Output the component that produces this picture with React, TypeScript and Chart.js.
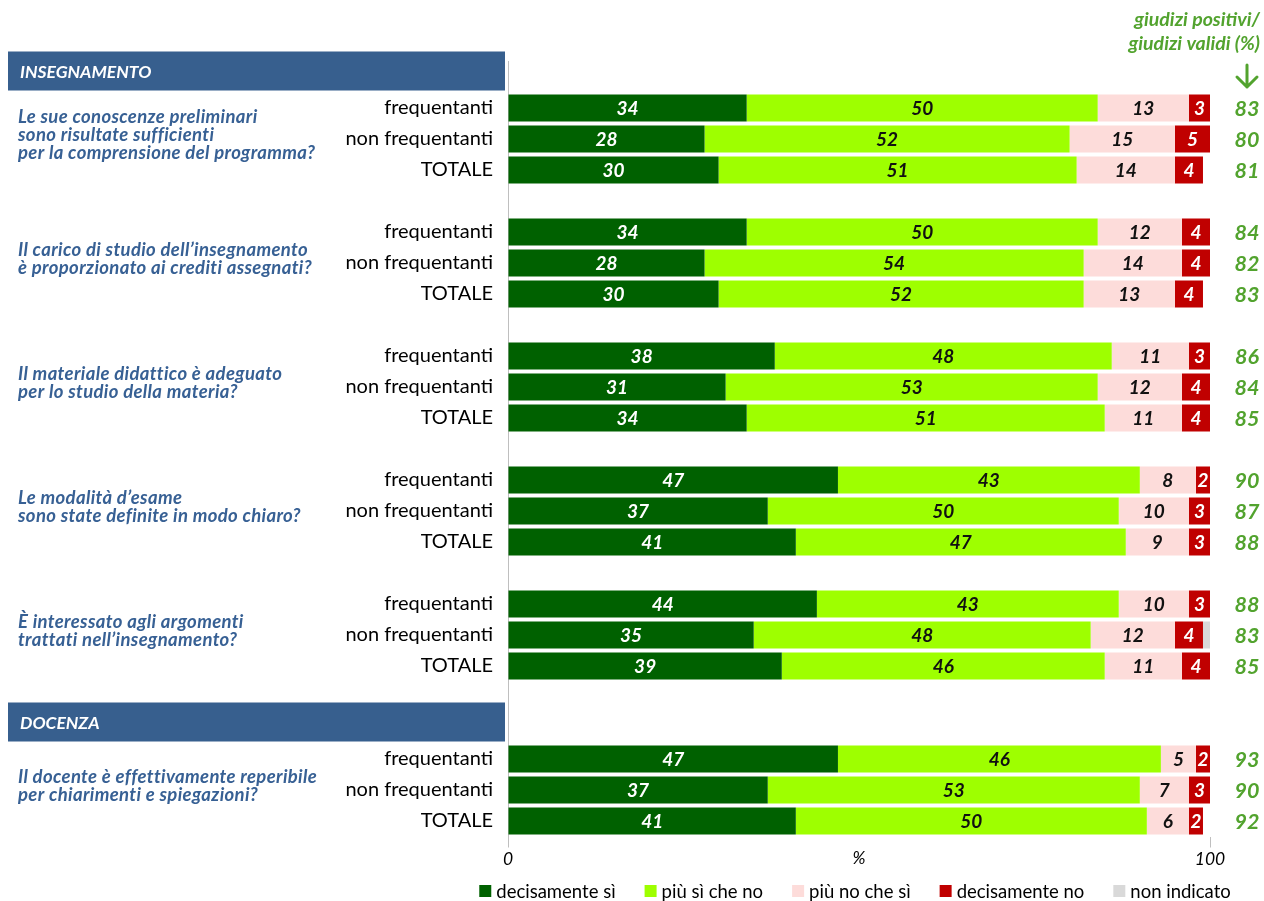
import React, { useEffect, useRef } from 'react';
import { Chart, registerables } from 'chart.js';

Chart.register(...registerables);

const sections = ['INSEGNAMENTO', 'DOCENZA'];
const sectionQuestionCounts = [5, 1];
const questions: string[][] = [
  ['Le sue conoscenze preliminari', 'sono risultate sufficienti', 'per la comprensione del programma?'],
  ['Il carico di studio dell\u2019insegnamento', '\u00e8 proporzionato ai crediti assegnati?'],
  ['Il materiale didattico \u00e8 adeguato', 'per lo studio della materia?'],
  ['Le modalit\u00e0 d\u2019esame', 'sono state definite in modo chiaro?'],
  ['\u00c8 interessato agli argomenti', 'trattati nell\u2019insegnamento?'],
  ['Il docente \u00e8 effettivamente reperibile', 'per chiarimenti e spiegazioni?'],
];
const groups = ['frequentanti', 'non frequentanti', 'TOTALE'];

const seriesNames = ['decisamente s\u00ec', 'pi\u00f9 s\u00ec che no', 'pi\u00f9 no che s\u00ec', 'decisamente no', 'non indicato'];
const decisamenteSi = [34, 28, 30, 34, 28, 30, 38, 31, 34, 47, 37, 41, 44, 35, 39, 47, 37, 41];
const piuSiCheNo = [50, 52, 51, 50, 54, 52, 48, 53, 51, 43, 50, 47, 43, 48, 46, 46, 53, 50];
const piuNoCheSi = [13, 15, 14, 12, 14, 13, 11, 12, 11, 8, 10, 9, 10, 12, 11, 5, 7, 6];
const decisamenteNo = [3, 5, 4, 4, 4, 4, 3, 4, 4, 2, 3, 3, 3, 4, 4, 2, 3, 2];
const nonIndicato = [0, 0, 0, 0.3, 0, 0, 0, 0.4, 0.3, 0, 0.5, 0.3, 0.3, 1, 0.3, 0, 0, 0];
const giudiziPositivi = [83, 80, 81, 84, 82, 83, 86, 84, 85, 90, 87, 88, 88, 83, 85, 93, 90, 92];

const COLORS = ['#006100', '#9eff00', '#fddcda', '#c00000', '#d9d9d9'];
const LABEL_COLORS = ['#ffffff', '#111111', '#111111', '#ffffff', ''];
const FONT = 'Lato';
const BLUE = '#375f8e';
const QBLUE = '#376094';
const GREEN = '#52a32e';

type Row = { kind: 'header'; text: string } | { kind: 'bar'; idx: number; label: string } | { kind: 'blank' };

function buildRows() {
  const rows: Row[] = [];
  const qRows: { q: number; mid: number }[] = [];
  let q = 0;
  let b = 0;
  sections.forEach((s, si) => {
    rows.push({ kind: 'header', text: s });
    for (let k = 0; k < sectionQuestionCounts[si]; k++) {
      groups.forEach((g) => rows.push({ kind: 'bar', idx: b++, label: g }));
      qRows.push({ q, mid: rows.length - 2 });
      q++;
      const last = si === sections.length - 1 && k === sectionQuestionCounts[si] - 1;
      if (!last) rows.push({ kind: 'blank' });
    }
  });
  return { rows, qRows };
}

export default function App() {
  const ref = useRef<HTMLCanvasElement>(null);
  useEffect(() => {
    if (!ref.current) return;
    const { rows, qRows } = buildRows();
    const series = [decisamenteSi, piuSiCheNo, piuNoCheSi, decisamenteNo, nonIndicato];
    const labels = rows.map((r) => (r.kind === 'bar' ? r.label : ''));
    const datasets = series.map((arr, si) => ({
      label: seriesNames[si],
      data: rows.map((r) => (r.kind === 'bar' ? arr[r.idx] : null)),
      backgroundColor: COLORS[si],
      borderWidth: 0,
      categoryPercentage: 1,
      barPercentage: 0.87,
    }));

    const overlay = {
      id: 'overlay',
      afterDatasetsDraw(chart: any) {
        const ctx = chart.ctx;
        ctx.save();
        ctx.font = `italic bold 19px ${FONT}`;
        ctx.textAlign = 'center';
        ctx.textBaseline = 'middle';
        for (let d = 0; d < 4; d++) {
          const meta = chart.getDatasetMeta(d);
          meta.data.forEach((el: any, i: number) => {
            const v = chart.data.datasets[d].data[i];
            if (v == null || v <= 0) return;
            const p = el.getProps(['x', 'y', 'base'], true);
            ctx.fillStyle = LABEL_COLORS[d];
            ctx.fillText(String(v), (p.x + p.base) / 2, p.y + 1);
          });
        }
        ctx.restore();
      },
      afterDraw(chart: any) {
        const ctx = chart.ctx;
        const y = chart.scales.y;
        const area = chart.chartArea;
        ctx.save();
        // section headers
        rows.forEach((r, i) => {
          if (r.kind !== 'header') return;
          const cy = y.getPixelForValue(i) - 6;
          ctx.fillStyle = BLUE;
          ctx.fillRect(8, cy - 19.5, 497, 39);
          ctx.fillStyle = '#ffffff';
          ctx.font = `italic bold 17.5px ${FONT}`;
          ctx.textAlign = 'left';
          ctx.textBaseline = 'middle';
          ctx.fillText(r.text, 20, cy + 1);
        });
        // questions
        ctx.fillStyle = QBLUE;
        ctx.font = `italic bold 18.5px ${FONT}`;
        try { (ctx as any).letterSpacing = '0.35px'; } catch (e) {}
        ctx.textAlign = 'left';
        ctx.textBaseline = 'middle';
        qRows.forEach(({ q, mid }) => {
          const lines = questions[q];
          const cy = y.getPixelForValue(mid) - 4;
          lines.forEach((t, li) => {
            ctx.fillText(t, 18, cy + (li - (lines.length - 1) / 2) * 18);
          });
        });
        try { (ctx as any).letterSpacing = '0px'; } catch (e) {}
        // right column values
        ctx.fillStyle = GREEN;
        ctx.font = `italic bold 21.5px ${FONT}`;
        ctx.textAlign = 'center';
        rows.forEach((r, i) => {
          if (r.kind !== 'bar') return;
          ctx.fillText(String(giudiziPositivi[r.idx]), 1247, y.getPixelForValue(i) + 1);
        });
        // right header
        ctx.font = `italic bold 19.5px ${FONT}`;
        ctx.textAlign = 'right';
        ctx.fillText('giudizi positivi/', 1260, 20);
        ctx.fillText('giudizi validi (%)', 1260, 44);
        // arrow
        ctx.strokeStyle = GREEN;
        ctx.lineWidth = 3;
        ctx.lineCap = 'round';
        ctx.lineJoin = 'round';
        ctx.beginPath();
        ctx.moveTo(1247, 65);
        ctx.lineTo(1247, 87);
        ctx.moveTo(1237, 77);
        ctx.lineTo(1247, 87);
        ctx.lineTo(1257, 77);
        ctx.stroke();
        // % label
        ctx.fillStyle = '#000000';
        ctx.font = `italic 17.5px ${FONT}`;
        ctx.textAlign = 'center';
        ctx.fillText('%', (area.left + area.right) / 2, 858);
        // legend
        ctx.font = `18.5px ${FONT}`;
        const box = 12;
        const gapBox = 5;
        const gapItem = 29;
        const widths = seriesNames.map((n) => box + gapBox + ctx.measureText(n).width);
        const total = widths.reduce((a, b) => a + b, 0) + gapItem * (widths.length - 1);
        let x = (area.left + area.right) / 2 - 4 - total / 2;
        const ly = 891;
        ctx.textAlign = 'left';
        ctx.textBaseline = 'middle';
        seriesNames.forEach((n, i) => {
          ctx.fillStyle = COLORS[i];
          ctx.fillRect(x, ly - box / 2, box, box);
          ctx.fillStyle = '#000000';
          ctx.fillText(n, x + box + gapBox, ly + 1);
          x += widths[i] + gapItem;
        });
        ctx.restore();
      },
    };

    const chart = new Chart(ref.current, {
      type: 'bar',
      data: { labels, datasets },
      options: {
        indexAxis: 'y',
        animation: false,
        responsive: false,
        devicePixelRatio: 1,
        layout: { padding: { top: 61.5, right: 54, left: 0, bottom: 0 } },
        plugins: { legend: { display: false }, tooltip: { enabled: false } },
        scales: {
          x: {
            stacked: true,
            min: 0,
            max: 100,
            ticks: { stepSize: 100, font: { family: FONT, size: 17.5, style: 'italic' }, color: '#000', padding: 1, maxRotation: 0 },
            grid: { drawOnChartArea: false, drawTicks: true, tickLength: 11, color: '#bfbfbf' },
            border: { display: false },
            afterFit(scale: any) {
              scale.height = 64.5;
            },
          },
          y: {
            stacked: true,
            ticks: { autoSkip: false, font: { family: FONT, size: 20 }, color: '#000', padding: 15 },
            grid: { display: false, drawTicks: false },
            border: { display: true, color: '#bfbfbf', width: 1 },
            afterFit(scale: any) {
              scale.width = 508;
            },
          },
        },
      },
      plugins: [overlay],
    });
    return () => chart.destroy();
  }, []);
  return (
    <div style={{ position: 'fixed', left: 0, top: 0, width: 1264, height: 901, background: '#fff' }}>
      <canvas ref={ref} width={1264} height={901} style={{ width: 1264, height: 901, display: 'block' }} />
    </div>
  );
}
